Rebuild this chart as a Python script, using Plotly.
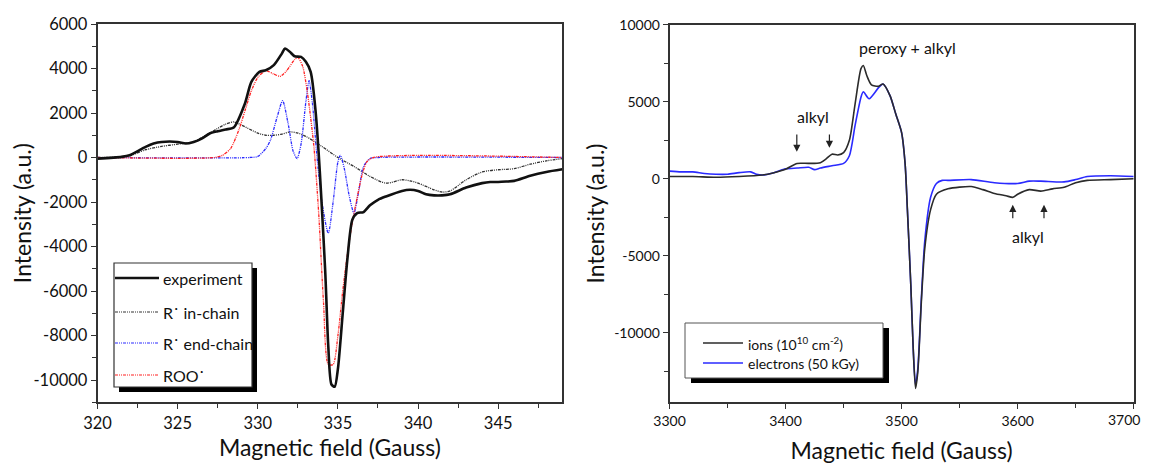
import plotly.graph_objects as go

# ---------------- Left panel data ----------------
exp_x = [320, 321.5, 322, 323, 323.5, 324, 325, 325.5, 326, 326.5, 327, 327.5, 328, 328.5,
         329.2, 329.6, 330.1, 330.5, 331, 331.5, 331.7, 332, 332.3, 332.7, 333, 333.3, 333.6,
         334.2, 334.4, 334.6, 334.8, 335.0, 335.3, 335.6, 335.9, 336.2, 336.6, 337, 337.5,
         338, 339, 339.5, 340, 340.5, 341, 341.5, 342, 343, 344, 344.5, 345, 345.5, 346,
         347, 348, 349]
exp_y = [-50, 30, 100, 480, 630, 700, 700, 630, 700, 850, 1080, 1180, 1260, 1350,
         2430, 3400, 3850, 3920, 4150, 4670, 4900, 4750, 4550, 4520, 4300, 3850, 2130,
         -5000, -8500, -10200, -10300, -9500, -7000, -4500, -2800, -2500, -2450, -2150, -1900,
         -1750, -1500, -1450, -1500, -1650, -1700, -1700, -1650, -1350, -1150, -1100, -1100, -1080, -1050,
         -820, -650, -530]

inch_x = [320, 322, 323, 324, 325, 326, 327, 328, 328.5, 329, 330, 330.5, 331, 331.5, 332, 332.5,
          333, 334, 335, 336, 337, 338, 339, 339.5, 340, 341, 341.5, 342, 343, 344, 345, 346,
          347, 348, 349]
inch_y = [0, 80, 350, 500, 600, 720, 1100, 1500, 1600, 1450, 1100, 1000, 1000, 1050, 1150, 1100,
          950, 500, 0, -400, -850, -1150, -1000, -1050, -1150, -1450, -1550, -1500, -1000, -650, -550, -500,
          -300, -150, -50]

endch_x = [320, 329.5, 330, 330.5, 330.8, 331.2, 331.55, 331.9, 332.2, 332.45, 332.7, 333.0, 333.2,
           333.4, 333.7, 334.0, 334.4, 334.7, 335.0, 335.15, 335.4, 335.7, 336.0, 336.3, 336.6,
           337, 337.5, 349]
endch_y = [0, 0, 50, 400, 800, 1800, 2550, 1500, 300, -50, 600, 2500, 3450,
           2500, 0, -2000, -3400, -2000, -200, 100, -500, -1700, -2500, -1500, -400,
           -50, 0, 0]

roo_x = [320, 327.3, 327.8, 328.3, 328.8, 329.2, 329.6, 330, 330.5, 331, 331.4, 331.8, 332.3, 332.5,
         332.8, 333.1, 333.5, 333.8, 334.1, 334.4, 334.7, 335, 335.3, 335.6, 335.9, 336.2, 336.5,
         336.8, 337.2, 349]
roo_y = [0, 0, 100, 400, 1200, 2100, 3000, 3600, 3900, 3750, 3650, 3900, 4400, 4500,
         4100, 2900, 500, -2500, -6500, -9300, -9300, -8000, -6000, -4300, -2900, -1800, -800,
         -200, 0, 0]

left_xticks = [320, 325, 330, 335, 340, 345]
left_yticks = [6000, 4000, 2000, 0, -2000, -4000, -6000, -8000, -10000]

# ---------------- Right panel data ----------------
ions_x = [3300, 3320, 3340, 3360, 3380, 3390, 3400, 3410, 3420, 3430, 3435, 3440, 3445, 3450, 3455,
          3460, 3465, 3467, 3470, 3474, 3480, 3484, 3490, 3495, 3500, 3503, 3505, 3508, 3510, 3512,
          3514, 3517, 3520, 3525, 3530, 3540, 3560, 3570, 3580, 3590, 3596, 3600, 3610, 3620, 3630,
          3640, 3650, 3660, 3680, 3700]
ions_y = [150, 150, 100, 150, 250, 400, 620, 1000, 1000, 1050, 1300, 1600, 1550, 1700, 2500,
          4900, 7150, 7350, 6700, 6100, 6000, 6150, 5400, 4200, 3000, 1000, -2000, -7000, -11000, -13600,
          -12500, -8000, -4500, -2000, -1000, -650, -500, -700, -950, -1100, -1200, -1000, -700, -800, -650,
          -550, -250, -100, -50, 0]

elec_x = [3300, 3310, 3320, 3330, 3340, 3350, 3360, 3370, 3375, 3380, 3390, 3400, 3410, 3420, 3425,
          3430, 3440, 3450, 3455, 3460, 3465, 3467, 3472, 3480, 3484, 3490, 3495, 3500, 3503, 3505,
          3508, 3510, 3512, 3514, 3517, 3520, 3525, 3530, 3535, 3540, 3560, 3580, 3600, 3610, 3620,
          3640, 3650, 3660, 3680, 3700]
elec_y = [500, 450, 450, 350, 300, 300, 400, 450, 300, 250, 400, 650, 700, 750, 600,
          700, 850, 1000, 1500, 3500, 5300, 5650, 5200, 5900, 6150, 5400, 4200, 3000, 1000, -2000,
          -7000, -11000, -13400, -12300, -7800, -4000, -1200, -300, -100, -100, -50, -250, -300, -150, -150,
          -200, -50, 150, 200, 150]

right_xticks = [3300, 3400, 3500, 3600, 3700]
right_yticks = [10000, 5000, 0, -5000, -10000]

FONT = "Lato"
OFF = 8                      # page body margin of the browser
W, H = 1150 - OFF, 464 - OFF


def px(xp):
    return (xp - OFF) / W


def py(yp):
    return 1 - (yp - OFF) / H


fig = go.Figure()
dotpat = "3px,1px,1px,1px,1px,1px"
fig.add_trace(go.Scatter(x=inch_x, y=inch_y, mode="lines", line=dict(color="#333333", width=1.3, dash=dotpat, shape="spline", smoothing=0.8), xaxis="x", yaxis="y"))
fig.add_trace(go.Scatter(x=endch_x, y=endch_y, mode="lines", line=dict(color="#2a2aff", width=1.3, dash=dotpat, shape="spline", smoothing=0.7), xaxis="x", yaxis="y"))
fig.add_trace(go.Scatter(x=roo_x, y=roo_y, mode="lines", line=dict(color="#ff2020", width=1.3, dash=dotpat, shape="spline", smoothing=0.7), xaxis="x", yaxis="y"))
fig.add_trace(go.Scatter(x=exp_x, y=exp_y, mode="lines", line=dict(color="#111111", width=2.6, shape="spline", smoothing=0.7), xaxis="x", yaxis="y"))

fig.add_trace(go.Scatter(x=elec_x, y=elec_y, mode="lines", line=dict(color="#2a2aff", width=1.6, shape="spline", smoothing=0.7), xaxis="x2", yaxis="y2"))
fig.add_trace(go.Scatter(x=ions_x, y=ions_y, mode="lines", line=dict(color="#2b2b2b", width=1.6, shape="spline", smoothing=0.7), xaxis="x2", yaxis="y2"))

axcommon = dict(showline=True, linecolor="#333333", linewidth=1.5, mirror=True, showgrid=False, zeroline=False,
                ticks="outside", ticklen=5, tickwidth=1.3, tickcolor="#333333", automargin=False)

TXT = "#111111"
# last right-axis tick label is placed as an annotation so it stays inside the visible page
right_xticktext = [str(v) for v in right_xticks[:-1]] + [""]

fig.update_layout(
    width=W, height=H, showlegend=False,
    margin=dict(l=0, r=0, t=0, b=0),
    paper_bgcolor="white", plot_bgcolor="white",
    font=dict(family=FONT, color=TXT),
    xaxis=dict(domain=[px(97.5), px(562.3)], range=[320, 349], tickvals=left_xticks,
               ticktext=[str(v) for v in left_xticks], tickfont=dict(size=16.5, color=TXT),
               minor=dict(ticks="outside", ticklen=4, tickwidth=1.2, tickcolor="#333333", dtick=2.5),
               title=dict(text="Magnetic field (Gauss)", font=dict(size=23, color=TXT), standoff=4),
               anchor="y", **axcommon),
    yaxis=dict(domain=[py(402.3), py(24)], range=[-11000, 6000], tickvals=left_yticks,
               ticktext=[str(v) for v in left_yticks], tickfont=dict(size=16.5, color=TXT),
               minor=dict(ticks="outside", ticklen=4, tickwidth=1.2, tickcolor="#333333", dtick=1000),
               title=dict(text="Intensity (a.u.)", font=dict(size=23, color=TXT), standoff=0),
               anchor="x", **axcommon),
    xaxis2=dict(domain=[px(669.5), px(1133.7)], range=[3300, 3700], tickvals=right_xticks,
                ticktext=right_xticktext, tickfont=dict(size=14, color=TXT),
                minor=dict(ticks="outside", ticklen=4, tickwidth=1.2, tickcolor="#333333", dtick=50),
                title=dict(text="Magnetic field (Gauss)", font=dict(size=23, color=TXT), standoff=16),
                anchor="y2", **axcommon),
    yaxis2=dict(domain=[py(402.3), py(24.7)], range=[-14500, 10000], tickvals=right_yticks,
                ticktext=[str(v) for v in right_yticks], tickfont=dict(size=14, color=TXT),
                minor=dict(ticks="outside", ticklen=4, tickwidth=1.2, tickcolor="#333333", dtick=2500),
                title=dict(text="Intensity (a.u.)", font=dict(size=23, color=TXT), standoff=3),
                anchor="x2", **axcommon),
)

shapes = []
annots = []

annots.append(dict(xref="paper", yref="paper", x=px(1142), y=py(419), text=str(right_xticks[-1]),
                   showarrow=False, xanchor="right", yanchor="middle", font=dict(size=14, family=FONT, color=TXT)))

# Left legend box with shadow
shapes.append(dict(type="rect", xref="paper", yref="paper", x0=px(119), x1=px(257), y0=py(392), y1=py(268),
                   fillcolor="black", line=dict(width=0)))
shapes.append(dict(type="rect", xref="paper", yref="paper", x0=px(114), x1=px(252), y0=py(387), y1=py(263),
                   fillcolor="white", line=dict(color="#333333", width=1.2)))
left_leg = [("experiment", "#111111", 2.6, "solid", 278),
            ("R˙ in-chain", "#333333", 1.2, dotpat, 312),
            ("R˙ end-chain", "#2a2aff", 1.2, dotpat, 343),
            ("ROO˙", "#ff2020", 1.2, dotpat, 375)]
for name, col, wd, dsh, yy in left_leg:
    shapes.append(dict(type="line", xref="paper", yref="paper", x0=px(115), x1=px(159), y0=py(yy), y1=py(yy),
                       line=dict(color=col, width=wd, dash=dsh)))
    annots.append(dict(xref="paper", yref="paper", x=px(161), y=py(yy), text=name, showarrow=False,
                       xanchor="left", yanchor="middle", font=dict(size=16, family=FONT, color=TXT)))

# Right legend box with shadow
shapes.append(dict(type="rect", xref="paper", yref="paper", x0=px(691), x1=px(889), y0=py(383), y1=py(328),
                   fillcolor="black", line=dict(width=0)))
shapes.append(dict(type="rect", xref="paper", yref="paper", x0=px(685), x1=px(883), y0=py(378), y1=py(323),
                   fillcolor="white", line=dict(color="#555555", width=1.0)))
right_leg = [("ions (10<sup>10</sup> cm<sup>-2</sup>)", "#2b2b2b", 343),
             ("electrons (50 kGy)", "#2a2aff", 363)]
for name, col, yy in right_leg:
    shapes.append(dict(type="line", xref="paper", yref="paper", x0=px(703), x1=px(743), y0=py(yy), y1=py(yy),
                       line=dict(color=col, width=1.6)))
    annots.append(dict(xref="paper", yref="paper", x=px(746), y=py(yy), text=name, showarrow=False,
                       xanchor="left", yanchor="middle", font=dict(size=14, family=FONT, color=TXT)))

# Right panel annotations
annots.append(dict(xref="x2", yref="y2", x=3505, y=8550, text="peroxy + alkyl", showarrow=False,
                   font=dict(size=16, family=FONT, color=TXT)))
annots.append(dict(xref="x2", yref="y2", x=3424, y=4020, text="alkyl", showarrow=False,
                   font=dict(size=16, family=FONT, color=TXT)))
annots.append(dict(xref="x2", yref="y2", x=3609, y=-3740, text="alkyl", showarrow=False,
                   font=dict(size=16, family=FONT, color=TXT)))
for (ax_, ay_, x_, y_) in [(3409.7, 2980, 3409.7, 1750), (3437.8, 2980, 3437.8, 2010),
                           (3595.8, -2660, 3595.8, -1690), (3622.7, -2660, 3622.7, -1690)]:
    annots.append(dict(xref="x2", yref="y2", axref="x2", ayref="y2", x=x_, y=y_, ax=ax_, ay=ay_, text="",
                       showarrow=True, arrowhead=2, arrowsize=1.2, arrowwidth=1.2, arrowcolor="#222222"))

fig.update_layout(shapes=shapes, annotations=annots)
fig.write_html("out.html")
